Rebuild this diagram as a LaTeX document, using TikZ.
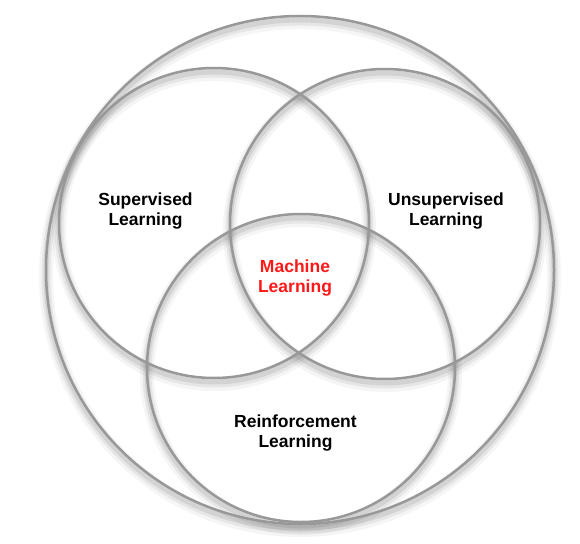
\documentclass[tikz,border=0pt]{standalone}
\usepackage{fontspec}
\setmainfont{Liberation Sans}
\begin{document}
\begin{tikzpicture}[x=1pt,y=-1pt,
  ring/.style={draw=ringgray,line width=2.5pt},
  shade1/.style={draw=black,opacity=0.04,line width=14pt},
  shade2/.style={draw=black,opacity=0.06,line width=9pt},
  shade3/.style={draw=black,opacity=0.08,line width=5pt},
  lbl/.style={align=center,inner sep=0pt,font=\fontsize{17.5}{20}\selectfont\bfseries},
]
\definecolor{ringgray}{RGB}{152,152,152}
\definecolor{mlred}{RGB}{255,24,24}
\useasboundingbox[fill=white] (0,0) rectangle (580,543);
\coordinate (O) at (300,270);
\coordinate (S) at (214,223);
\coordinate (U) at (385,224);
\coordinate (R) at (301,368);
% shadows
\foreach \c/\r in {O/254,S/155,U/155,R/154}{
  \draw[shade1] ([yshift=-6pt]\c) circle[radius=\r];
  \draw[shade2] ([yshift=-5pt]\c) circle[radius=\r];
  \draw[shade3] ([yshift=-4pt]\c) circle[radius=\r];
}
% rings
\draw[ring] (O) circle[radius=254];
\draw[ring] (S) circle[radius=155];
\draw[ring] (U) circle[radius=155];
\draw[ring] (R) circle[radius=154];
% labels
\node[lbl] (sup) at (145.5,211) {Supervised\\Learning};
\node[lbl] (uns) at (446,211) {Unsupervised\\Learning};
\node[lbl,text=mlred] (ml) at (295,278) {Machine\\Learning};
\node[lbl] (rl) at (295.5,433) {Reinforcement\\Learning};
\end{tikzpicture}
\end{document}
